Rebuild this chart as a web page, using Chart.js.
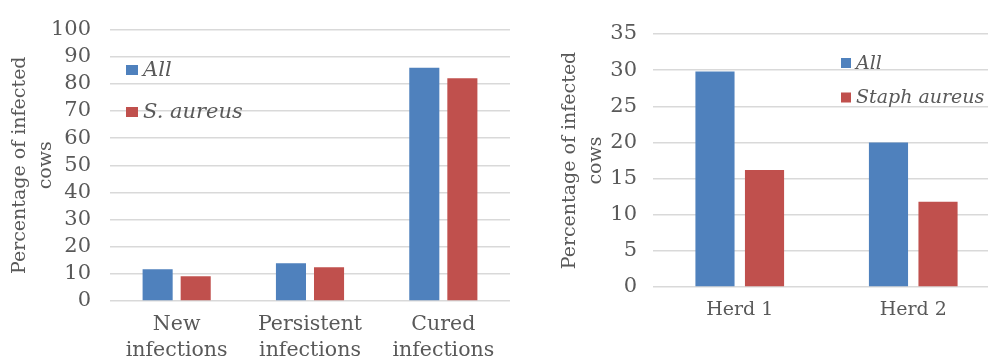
<!DOCTYPE html>
<html>
<head>
<meta charset="utf-8">
<script src="https://cdn.jsdelivr.net/npm/chart.js@4.4.1/dist/chart.umd.min.js"></script>
<style>
  html, body { margin: 0; padding: 0; background: #ffffff; overflow: hidden; }
  #wrap { position: relative; width: 988px; height: 361px; overflow: hidden; background: #fff; }
  #c1 { position: absolute; left: 0; top: 0; }
  #c2 { position: absolute; left: 550px; top: 0; }
</style>
</head>
<body>
<div id="wrap">
  <canvas id="c1" width="510" height="361"></canvas>
  <canvas id="c2" width="450" height="361"></canvas>
</div>
<script>
// ---- Data: left chart ----
const outcomeCategories = [["New", "infections"], ["Persistent", "infections"], ["Cured", "infections"]];
const outcomeAll = [11.7, 13.9, 85.9];
const outcomeSAureus = [9.1, 12.4, 82.0];
const outcomeSeriesNames = ["All", "S. aureus"];
const outcomeTicks = { min: 0, max: 100, step: 10 };

// ---- Data: right chart ----
const herdCategories = ["Herd 1", "Herd 2"];
const herdAll = [29.8, 20.0];
const herdStaph = [16.2, 11.8];
const herdSeriesNames = ["All", "Staph aureus"];
const herdTicks = { min: 0, max: 35, step: 5 };

const yTitle = ["Percentage of infected", "cows"];

const BLUE = "#4F81BD";
const RED = "#C0504D";
const TEXT = "#595959";
const GRID = "#D9D9D9";
const FONT = "'DejaVu Serif', 'Liberation Serif', serif";

Chart.defaults.font.family = FONT;
Chart.defaults.color = TEXT;

const innerLegend = {
  id: "innerLegend",
  afterDraw(chart, args, opts) {
    const ctx = chart.ctx;
    ctx.save();
    chart.data.datasets.forEach((ds, i) => {
      const x = opts.x, y = opts.y[i];
      ctx.fillStyle = ds.backgroundColor;
      ctx.fillRect(x, y - opts.box / 2, opts.boxW, opts.box);
      ctx.fillStyle = TEXT;
      ctx.font = "italic " + opts.size + "px " + FONT;
      ctx.textBaseline = "middle";
      ctx.textAlign = "left";
      ctx.fillText(ds.label, x + opts.boxW + 5, y + 1);
    });
    ctx.restore();
  }
};

function makeChart(id, labels, a, b, names, ticks, cfg) {
  return new Chart(document.getElementById(id), {
    type: "bar",
    data: {
      labels: labels,
      datasets: [
        { label: names[0], data: a, backgroundColor: BLUE, categoryPercentage: 0.571, barPercentage: 0.79 },
        { label: names[1], data: b, backgroundColor: RED, categoryPercentage: 0.571, barPercentage: 0.79 }
      ]
    },
    options: {
      responsive: false,
      animation: false,
      devicePixelRatio: 1,
      layout: { padding: { top: cfg.top, left: 0, right: 0, bottom: 0 } },
      plugins: {
        legend: { display: false },
        tooltip: { enabled: false },
        innerLegend: cfg.legend
      },
      scales: {
        x: {
          grid: { display: false, drawTicks: false },
          border: { display: false },
          ticks: { font: { size: cfg.xSize, lineHeight: 26 / cfg.xSize }, color: TEXT, padding: cfg.xPad, maxRotation: 0, autoSkip: false },
          afterFit: s => { s.height = cfg.xH; }
        },
        y: {
          min: ticks.min, max: ticks.max,
          grid: { color: GRID, lineWidth: 1.5, drawTicks: false },
          border: { display: false },
          ticks: { stepSize: ticks.step, autoSkip: false, font: { size: 21, lineHeight: 1 }, color: TEXT, padding: cfg.yPad },
          title: { display: true, text: yTitle, font: { size: 19, lineHeight: 1.37 }, color: TEXT, padding: { top: 7, bottom: 0 } },
          afterFit: s => { s.width = cfg.yW; }
        }
      }
    },
    plugins: [innerLegend]
  });
}

makeChart("c1", outcomeCategories, outcomeAll, outcomeSAureus, outcomeSeriesNames, outcomeTicks, {
  top: 25, xH: 60, yW: 110, xPad: 11, yPad: 19, xSize: 20.5,
  legend: { x: 126, y: [70, 112], box: 10, boxW: 12, size: 21 }
});

makeChart("c2", herdCategories, herdAll, herdStaph, herdSeriesNames, herdTicks, {
  top: 34, xH: 74, yW: 103, xPad: 10, yPad: 16, xSize: 19,
  legend: { x: 291, y: [63, 97.5], box: 10, boxW: 10, size: 19 }
});
</script>
</body>
</html>
